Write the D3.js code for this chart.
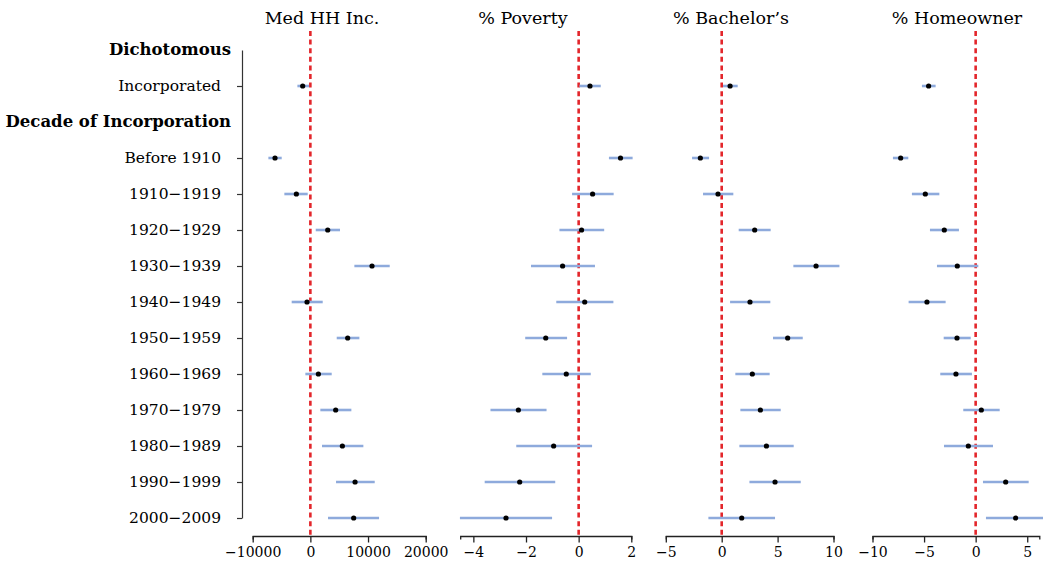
<!DOCTYPE html>
<html>
<head>
<meta charset="utf-8">
<script src="https://cdn.jsdelivr.net/npm/d3@7"></script>
<style>
  html, body { margin: 0; padding: 0; background: #fff; }
  svg { display: block; font-family: "DejaVu Serif", "Liberation Serif", serif; }
</style>
</head>
<body>
<svg id="chart" width="1043" height="568"></svg>
<script>
// Row labels: two group headings and the categories listed beneath them
const groupHeaders = ["Dichotomous", "Decade of Incorporation"];
const categories = [
  "Incorporated",
  "Before 1910", "1910\u22121919", "1920\u22121929", "1930\u22121939", "1940\u22121949",
  "1950\u22121959", "1960\u22121969", "1970\u22121979", "1980\u22121989",
  "1990\u22121999", "2000\u22122009"
];
const rowOrder = [groupHeaders[0], categories[0], groupHeaders[1], ...categories.slice(1)];

// Panel titles
const panelTitles = ["Med HH Inc.", "% Poverty", "% Bachelor\u2019s", "% Homeowner"];

// Median household income: estimate and interval bounds
const incomeEst = [-1330, -6130, -2430, 3010, 10690, -580, 6470, 1390, 4390, 5550, 7750, 7510];
const incomeLo  = [-2250, -7280, -4510, 930, 7630, -3240, 4570, -870, 1730, 2020, 4450, 3060];
const incomeHi  = [-230, -4970, -460, 5140, 13760, 2140, 8500, 3700, 7110, 9190, 11160, 11910];

// Percent in poverty
const povertyEst = [0.43, 1.59, 0.53, 0.11, -0.61, 0.23, -1.25, -0.47, -2.29, -0.95, -2.24, -2.76];
const povertyLo  = [0.03, 1.15, -0.25, -0.73, -1.81, -0.85, -2.03, -1.38, -3.35, -2.37, -3.57, -4.51];
const povertyHi  = [0.84, 2.05, 1.33, 0.97, 0.62, 1.32, -0.44, 0.46, -1.22, 0.51, -0.89, -1.01];

// Percent with a bachelor's degree
const bachelorEst = [0.75, -1.91, -0.33, 2.95, 8.44, 2.53, 5.90, 2.74, 3.46, 4.00, 4.77, 1.79];
const bachelorLo  = [0.12, -2.65, -1.67, 1.52, 6.41, 0.75, 4.59, 1.22, 1.67, 1.58, 2.48, -1.19];
const bachelorHi  = [1.43, -1.13, 1.04, 4.38, 10.53, 4.35, 7.25, 4.29, 5.28, 6.44, 7.07, 4.77];

// Percent homeowners
const homeEst = [-4.56, -7.27, -4.88, -3.04, -1.78, -4.72, -1.81, -1.91, 0.55, -0.71, 2.91, 3.88];
const homeLo  = [-5.21, -8.02, -6.18, -4.43, -3.75, -6.50, -3.10, -3.43, -1.20, -3.07, 0.71, 1.00];
const homeHi  = [-3.88, -6.53, -3.52, -1.62, 0.26, -2.91, -0.48, -0.36, 2.33, 1.68, 5.14, 6.80];

// Axis ticks and axis extents
const incomeTicks = [-10000, 0, 10000, 20000];
const povertyTicks = [-4, -2, 0, 2];
const bachelorTicks = [-5, 0, 5, 10];
const homeTicks = [-10, -5, 0, 5];
const incomeLimits = [-10000, 20000];
const povertyLimits = [-4.5, 2];
const bachelorLimits = [-5, 10];
const homeLimits = [-10, 6.17];

const svg = d3.select("#chart");

// Shared vertical layout
const yTop = 50, yBottom = 518, xAxisY = 536, yAxisX = 242;
const y = d3.scalePoint().domain(rowOrder).range([yTop, yBottom]);

// Left axis: line with ticks on the category rows only
const yAxis = d3.axisLeft(y).tickValues(categories).tickSize(5).tickSizeOuter(0).tickPadding(16);
const gy = svg.append("g").attr("transform", `translate(${yAxisX},0)`).call(yAxis);
gy.select(".domain").attr("stroke", "#333").attr("stroke-width", 1.2);
gy.selectAll(".tick line").attr("stroke", "#333").attr("stroke-width", 1.2);
gy.selectAll(".tick text")
  .attr("font-size", 15.5)
  .attr("font-family", "DejaVu Serif")
  .attr("fill", "#000");

// Group headings in bold
svg.append("g").selectAll("text").data(groupHeaders).join("text")
  .attr("x", 231)
  .attr("y", d => y(d))
  .attr("dy", "0.3em")
  .attr("text-anchor", "end")
  .attr("font-size", 16.5)
  .attr("font-weight", "bold")
  .attr("fill", "#000")
  .text(d => d);

const panels = [
  { title: panelTitles[0], est: incomeEst, lo: incomeLo, hi: incomeHi, ticks: incomeTicks, lim: incomeLimits, px: [252.7, 425.7], titleX: 322 },
  { title: panelTitles[1], est: povertyEst, lo: povertyLo, hi: povertyHi, ticks: povertyTicks, lim: povertyLimits, px: [460.2, 631.3], titleX: 523 },
  { title: panelTitles[2], est: bachelorEst, lo: bachelorLo, hi: bachelorHi, ticks: bachelorTicks, lim: bachelorLimits, px: [665.8, 833.5], titleX: 731 },
  { title: panelTitles[3], est: homeEst, lo: homeLo, hi: homeHi, ticks: homeTicks, lim: homeLimits, px: [872.5, 1039.3], titleX: 957 }
];

panels.forEach(p => {
  const x = d3.scaleLinear().domain(p.lim).range(p.px);
  const g = svg.append("g");

  // Title
  g.append("text")
    .attr("x", p.titleX)
    .attr("y", 24)
    .attr("text-anchor", "middle")
    .attr("font-size", 17.5)
    .attr("fill", "#000")
    .text(p.title);

  // Bottom axis
  const xAxis = d3.axisBottom(x).tickValues(p.ticks).tickSize(6.5).tickSizeOuter(3.5)
    .tickPadding(5).tickFormat(d3.format("d"));
  const gx = g.append("g").attr("transform", `translate(0,${xAxisY})`).call(xAxis);
  gx.select(".domain").attr("stroke", "#222").attr("stroke-width", 1.3);
  gx.selectAll(".tick line").attr("stroke", "#222").attr("stroke-width", 1.3);
  gx.selectAll(".tick text")
    .attr("font-size", 14)
    .attr("font-family", "DejaVu Serif")
    .attr("fill", "#000");

  // Reference line at zero
  g.append("line")
    .attr("x1", x(0)).attr("x2", x(0))
    .attr("y1", 31).attr("y2", xAxisY)
    .attr("stroke", "#e3262b")
    .attr("stroke-width", 2.6)
    .attr("stroke-dasharray", "5,3.6");

  const rows = categories.map((c, i) => ({ c, est: p.est[i], lo: p.lo[i], hi: p.hi[i] }));

  // Interval bars
  g.append("g").selectAll("line").data(rows).join("line")
    .attr("x1", d => x(d.lo))
    .attr("x2", d => x(d.hi))
    .attr("y1", d => y(d.c))
    .attr("y2", d => y(d.c))
    .attr("stroke", "#8eaadc")
    .attr("stroke-width", 2.6);

  // Point estimates
  g.append("g").selectAll("circle").data(rows).join("circle")
    .attr("cx", d => x(d.est))
    .attr("cy", d => y(d.c))
    .attr("r", 2.6)
    .attr("fill", "#000");
});
</script>
</body>
</html>
